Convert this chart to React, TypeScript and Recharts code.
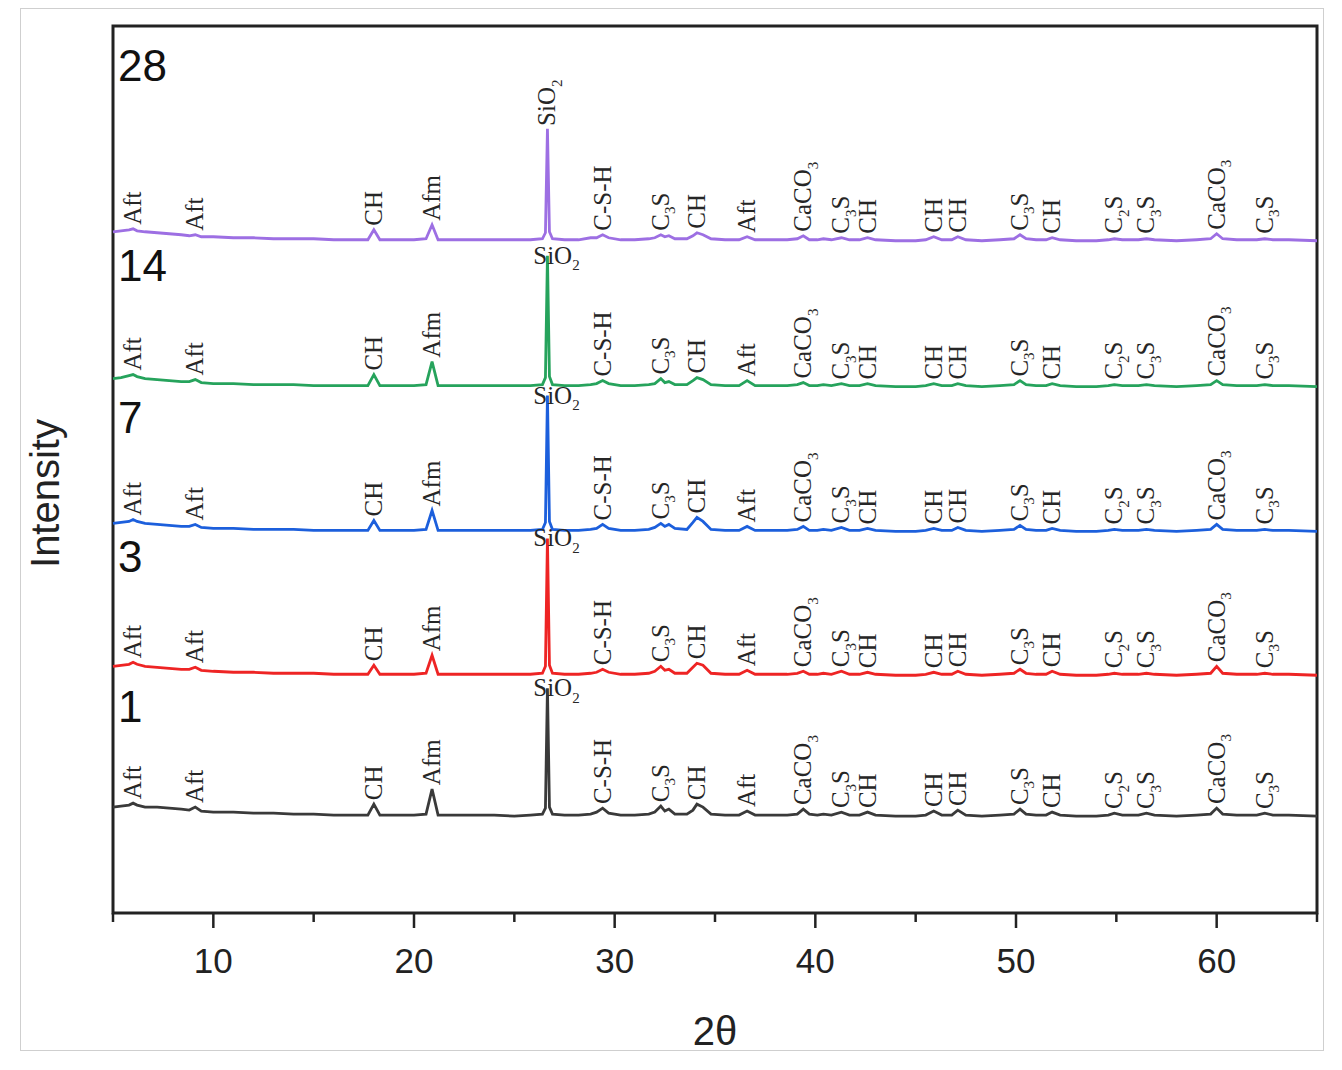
import React from "react";
import { LineChart, Line, XAxis, YAxis, ReferenceArea, ReferenceDot } from "recharts";

// 2θ sampling points (degrees)
const twoTheta = [
	5, 5.4, 5.8, 6.0, 6.2, 6.6, 7.2, 7.8, 8.4, 8.8,
	9.1, 9.4, 10, 11, 12, 13, 14, 15, 16, 17,
	17.7, 18.0, 18.3, 19, 20, 20.6, 20.9, 21.2, 22, 23,
	24, 25, 25.8, 26.4, 26.55, 26.65, 26.75, 26.9, 27.5, 28.2,
	28.8, 29.1, 29.4, 29.7, 30.3, 31.0, 31.7, 32.0, 32.3, 32.5,
	32.7, 33.0, 33.6, 33.9, 34.1, 34.4, 34.8, 35.5, 36.2, 36.6,
	37.0, 37.8, 38.6, 39.1, 39.4, 39.7, 40.1, 40.4, 40.8, 41.3,
	41.7, 42.2, 42.6, 43.0, 44.0, 45.0, 45.5, 45.9, 46.3, 46.8,
	47.1, 47.5, 48.3, 49.2, 49.9, 50.2, 50.5, 51.0, 51.5, 51.8,
	52.2, 53.0, 54.0, 54.6, 54.9, 55.3, 56.1, 56.5, 56.9, 58.0,
	59.0, 59.7, 60.0, 60.3, 61.0, 62.0, 62.4, 62.8, 63.6, 65.0,
];

// intensities (a.u.) for each curing age, relative to own baseline
const int28 = [
	9, 10, 11, 12, 10, 9, 8, 7, 6, 5,
	6, 4, 4, 3, 3, 2, 2, 2, 1, 1,
	1, 11, 1, 1, 1, 2, 16, 1, 1, 1,
	1, 1, 1, 2, 8, 112, 9, 2, 1, 1,
	3, 3, 6, 3, 1, 1, 2, 3, 6, 4,
	5, 2, 2, 5, 8, 6, 2, 1, 1, 4,
	1, 1, 1, 2, 5, 1, 1, 2, 1, 3,
	1, 1, 3, 1, 0, 0, 1, 4, 1, 1,
	4, 1, 0, 1, 2, 6, 2, 1, 1, 3,
	1, 0, 0, 1, 2, 1, 1, 2, 1, 0,
	1, 2, 7, 2, 1, 1, 2, 1, 1, 0,
];
const int14 = [
	8, 9, 11, 12, 10, 8, 7, 6, 5, 5,
	7, 4, 3, 3, 2, 2, 2, 1, 1, 1,
	1, 12, 1, 1, 1, 2, 25, 1, 1, 1,
	1, 1, 1, 2, 9, 131, 10, 2, 1, 1,
	2, 3, 6, 3, 1, 1, 2, 3, 8, 4,
	5, 2, 2, 6, 9, 7, 2, 1, 1, 6,
	1, 1, 1, 2, 4, 1, 1, 2, 1, 3,
	1, 1, 3, 1, 0, 0, 1, 3, 1, 1,
	3, 1, 0, 1, 2, 6, 2, 1, 1, 3,
	1, 0, 0, 1, 2, 1, 1, 2, 1, 0,
	1, 2, 6, 2, 1, 1, 2, 1, 1, 0,
];
const int7 = [
	8, 9, 10, 12, 10, 8, 7, 6, 5, 5,
	7, 4, 3, 3, 2, 2, 2, 1, 1, 1,
	1, 11, 1, 1, 1, 2, 21, 1, 1, 1,
	1, 1, 1, 2, 9, 136, 10, 2, 1, 1,
	2, 3, 7, 3, 1, 1, 2, 4, 8, 5,
	7, 3, 2, 9, 14, 10, 2, 1, 1, 5,
	1, 1, 1, 2, 5, 1, 1, 2, 1, 4,
	1, 1, 3, 1, 0, 0, 1, 3, 1, 1,
	4, 1, 0, 1, 2, 6, 2, 1, 1, 3,
	1, 0, 0, 1, 2, 1, 1, 2, 1, 0,
	1, 2, 7, 2, 1, 1, 2, 1, 1, 0,
];
const int3 = [
	9, 10, 11, 13, 11, 9, 8, 7, 6, 6,
	8, 5, 4, 3, 3, 2, 2, 2, 1, 1,
	1, 10, 1, 1, 1, 2, 20, 1, 1, 1,
	1, 1, 1, 2, 9, 137, 10, 2, 1, 1,
	2, 3, 6, 3, 1, 1, 2, 4, 9, 5,
	6, 2, 2, 8, 12, 10, 2, 1, 1, 5,
	1, 1, 1, 2, 4, 1, 1, 2, 1, 4,
	1, 1, 3, 1, 0, 0, 1, 3, 1, 1,
	4, 1, 0, 1, 2, 6, 2, 1, 1, 4,
	1, 0, 0, 1, 2, 1, 1, 2, 1, 0,
	1, 2, 9, 2, 1, 1, 2, 1, 1, 0,
];
const int1 = [
	9, 10, 11, 13, 11, 9, 9, 8, 7, 6,
	9, 5, 4, 4, 3, 3, 2, 2, 1, 1,
	1, 12, 1, 1, 1, 2, 27, 1, 1, 1,
	1, 0, 1, 2, 8, 128, 9, 2, 1, 1,
	2, 4, 8, 3, 1, 1, 2, 4, 10, 5,
	7, 2, 2, 6, 12, 9, 2, 1, 1, 5,
	1, 1, 1, 2, 7, 2, 1, 2, 1, 4,
	1, 1, 4, 1, 0, 0, 1, 5, 1, 1,
	6, 1, 0, 1, 2, 7, 2, 1, 1, 4,
	1, 0, 0, 1, 3, 1, 1, 3, 1, 0,
	1, 2, 8, 2, 1, 1, 3, 1, 1, 0,
];

const ages = ["28", "14", "7", "3", "1"];
const intensities = [int28, int14, int7, int3, int1];

// phase labels
const peakPos = [6.0, 9.1, 18.0, 20.9, 29.4, 32.3, 34.1, 36.6, 39.4, 41.3, 42.6, 45.9, 47.1, 50.2, 51.8, 54.9, 56.5, 60.0, 62.4];
const peakNames = ["Aft", "Aft", "CH", "Afm", "C-S-H", "C3S", "CH", "Aft", "CaCO3", "C3S", "CH", "CH", "CH", "C3S", "CH", "C2S", "C3S", "CaCO3", "C3S"];
const quartzPos = 26.65;
const quartzName = "SiO2";

// layout / style (not data)
const colors = ["#9d6fe3", "#26a35c", "#1c5fdc", "#ee2424", "#3a3a3a"];
const offsets = [673, 527, 382, 238, 97];
const ageLabelLift = [160, 106, 99, 103, 94];

const SANS = "'Liberation Sans', Arial, sans-serif";
const SERIF = "'Liberation Serif', 'Times New Roman', serif";

const chartData = twoTheta.map((t, i) => {
	const row: any = { t };
	intensities.forEach((arr, k) => {
		row["s" + k] = offsets[k] + arr[i];
	});
	return row;
});

const valueAt = (arr: number[], pos: number) => arr[twoTheta.indexOf(pos)] ?? 0;

// digits become subscripts
const chem = (name: string, fs: number) => {
	const parts = name.split(/(\d+)/).filter((p) => p !== "");
	const d = fs * 0.25;
	let sub = false;
	return parts.map((p, i) => {
		if (/^\d+$/.test(p)) {
			sub = true;
			return (
				<tspan key={i} fontSize={fs * 0.6} dy={d}>
					{p}
				</tspan>
			);
		}
		const wasSub = sub;
		sub = false;
		return (
			<tspan key={i} dy={wasSub ? -d : undefined}>
				{p}
			</tspan>
		);
	});
};

const VLabel = (props: any) => {
	const { cx, cy, name } = props;
	return (
		<text
			transform={`translate(${cx},${cy}) rotate(-90)`}
			x={0}
			y={8}
			fontSize={25}
			fontFamily={SERIF}
			fill="#262626"
		>
			{chem(name, 25)}
		</text>
	);
};

const HLabel = (props: any) => {
	const { cx, cy, name } = props;
	return (
		<text x={cx + 9} y={cy + 8} textAnchor="middle" fontSize={25} fontFamily={SERIF} fill="#262626">
			{chem(name, 25)}
		</text>
	);
};

const AgeLabel = (props: any) => {
	const { cx, cy, name } = props;
	return (
		<text x={cx + 5} y={cy} fontSize={44} fontFamily={SANS} fill="#111">
			{name}
		</text>
	);
};

const XTick = (props: any) => {
	const { x, y, payload } = props;
	const v = payload.value;
	const major = v % 10 === 0;
	return (
		<g>
			<line x1={x} x2={x} y1={y} y2={y + (major ? 15 : 9)} stroke="#222" strokeWidth={2.5} />
			{major && (
				<text x={x} y={y + 60} textAnchor="middle" fontSize={35} fontFamily={SANS} fill="#222">
					{v}
				</text>
			)}
		</g>
	);
};

export default function App() {
	return (
		<div style={{ position: "absolute", left: 0, top: 0, width: 1342, height: 1070, background: "#fff" }}>
			<div
				style={{
					position: "absolute",
					left: 20,
					top: 8,
					width: 1302,
					height: 1041,
					border: "1px solid #cfcfcf",
				}}
			/>
			<LineChart
				width={1342}
				height={1070}
				data={chartData}
				margin={{ top: 26, right: 25, left: 20, bottom: 20 }}
			>
				<XAxis
					dataKey="t"
					type="number"
					domain={[5, 65]}
					ticks={[5, 10, 15, 20, 25, 30, 35, 40, 45, 50, 55, 60, 65]}
					tick={<XTick />}
					tickLine={false}
					tickSize={0}
					tickMargin={0}
					axisLine={false}
					height={137}
					label={(p: any) => {
						const vb = p.viewBox;
						return (
							<text x={vb.x + vb.width / 2} y={vb.y + 132} textAnchor="middle" fontSize={40} fontFamily={SANS} fill="#222">
								2θ
							</text>
						);
					}}
				/>
				<YAxis
					type="number"
					domain={[0, 888]}
					tick={false}
					tickLine={false}
					axisLine={false}
					width={93}
					label={(p: any) => {
						const vb = p.viewBox;
						const cx = vb.x + 25;
						const cy = vb.y + vb.height / 2 + 24;
						return (
							<text
								transform={`translate(${cx},${cy}) rotate(-90)`}
								x={0}
								y={14}
								textAnchor="middle"
								fontSize={40}
								fontFamily={SANS}
								fill="#222"
							>
								Intensity
							</text>
						);
					}}
				/>
				<ReferenceArea x1={5} x2={65} y1={0} y2={888} fill="none" stroke="#222" strokeWidth={3} />
				{ages.map((a, k) => (
					<Line
						key={a}
						type="linear"
						dataKey={"s" + k}
						stroke={colors[k]}
						strokeWidth={2.8}
						dot={false}
						activeDot={false}
						isAnimationActive={false}
					/>
				))}
				{ages.map((a, k) => (
					<ReferenceDot
						key={"age" + a}
						x={5}
						y={offsets[k] + ageLabelLift[k]}
						r={0}
						shape={(p: any) => <AgeLabel cx={p.cx} cy={p.cy} name={a} />}
					/>
				))}
				{ages.map((a, k) =>
					peakPos.map((pos, j) => (
						<ReferenceDot
							key={a + "-" + j}
							x={pos}
							y={offsets[k] + Math.max(valueAt(intensities[k], pos), 3) + 4}
							r={0}
							shape={(p: any) => <VLabel cx={p.cx} cy={p.cy} name={peakNames[j]} />}
						/>
					))
				)}
				{ages.map((a, k) => (
					<ReferenceDot
						key={"q" + a}
						x={quartzPos}
						y={offsets[k] + valueAt(intensities[k], quartzPos) + (k === 0 ? 3 : 0)}
						r={0}
						shape={(p: any) =>
							k === 0 ? (
								<VLabel cx={p.cx} cy={p.cy} name={quartzName} />
							) : (
								<HLabel cx={p.cx} cy={p.cy} name={quartzName} />
							)
						}
					/>
				))}
			</LineChart>
		</div>
	);
}
